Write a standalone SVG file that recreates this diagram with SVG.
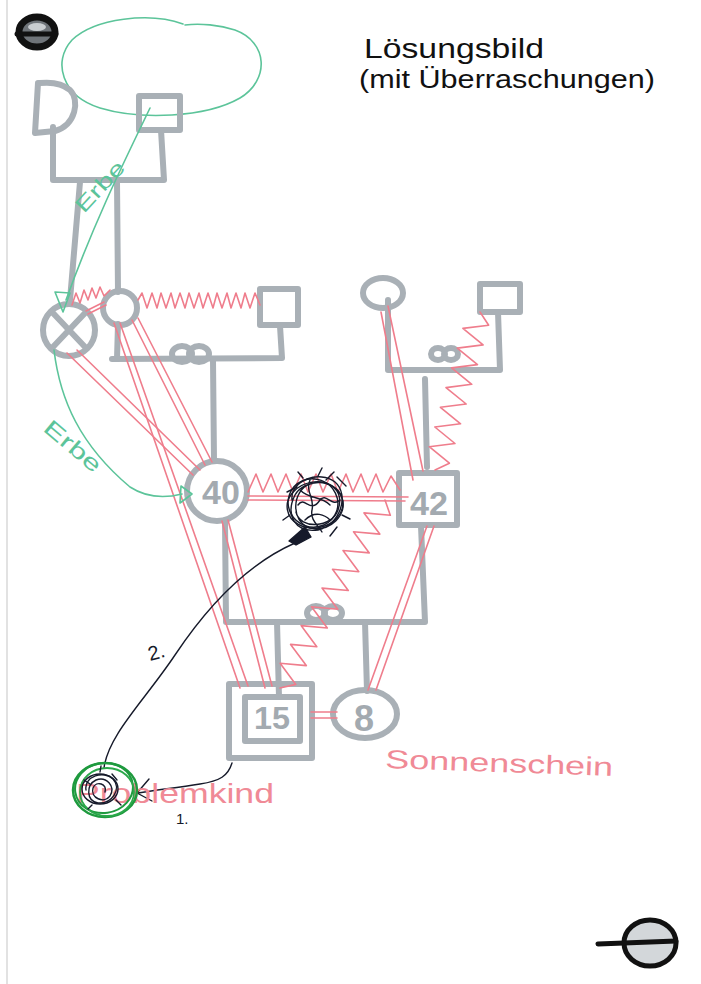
<svg xmlns="http://www.w3.org/2000/svg" width="701" height="984" viewBox="0 0 701 984">
<defs>
<style>
.g{fill:none;stroke:#a9b0b6;stroke-width:6;stroke-linecap:round;stroke-linejoin:round}
.r{fill:none;stroke:#ef7d8c;stroke-width:1.6;stroke-linecap:round;stroke-linejoin:round}
.gr{fill:none;stroke:#5cc49a;stroke-width:1.6;stroke-linecap:round;stroke-linejoin:round}
.k{fill:none;stroke:#161a2a;stroke-width:1.4;stroke-linecap:round;stroke-linejoin:round}
.num{font-family:"Liberation Sans",Arial,sans-serif;font-weight:bold;fill:#a3aab0;text-anchor:middle}
.hand{font-family:"Liberation Sans",Arial,sans-serif}
</style>
</defs>
<rect width="701" height="984" fill="#ffffff"/>
<line x1="7" y1="0" x2="7" y2="984" stroke="#e2e2e2" stroke-width="2"/>

<g id="mark-top">
<ellipse cx="37" cy="32" rx="18" ry="15" fill="#6f7479" stroke="#111" stroke-width="7"/>
<ellipse cx="37" cy="27" rx="9" ry="4" fill="#c9cdd0"/>
<line x1="17" y1="34" x2="56" y2="34" stroke="#111" stroke-width="5" stroke-linecap="round"/>
</g>
<g id="mark-bottom">
<ellipse cx="650" cy="943" rx="26" ry="23" fill="#d3d7da" stroke="#111" stroke-width="5"/>
<line x1="598" y1="944" x2="676" y2="941" stroke="#111" stroke-width="5" stroke-linecap="round"/>
</g>

<g id="title" fill="#111">
<text class="hand" x="364" y="58" font-size="28" textLength="180" lengthAdjust="spacingAndGlyphs">Lösungsbild</text>
<text class="hand" x="359" y="88" font-size="26" textLength="296" lengthAdjust="spacingAndGlyphs">(mit Überraschungen)</text>
</g>

<g id="cloud">
<path class="gr" d="M183,24 C150,12 95,18 72,40 C52,62 62,96 100,108 C140,120 205,118 240,98 C270,80 268,42 235,30 C220,25 200,23 185,25"/>
</g>

<g id="structure">
<path class="g" d="M38,83 L35,133 L55,131 C76,125 80,100 70,90 C62,83 50,82 40,83"/>
<rect class="g" x="139" y="96" width="41" height="34"/>
<path class="g" d="M53,127 L53,180 L164,180 L161,130"/>
<path class="g" d="M80,182 L70,300"/>
<path class="g" d="M117,182 L118,292"/>
<path class="g" d="M118,324 L117,359 L112,359 L282,358 L280,326"/>
<path class="g" d="M213,360 L214,461"/>
<path class="g" d="M388,300 L388,370 L500,370 L498,312"/>
<path class="g" d="M425,379 L427,467"/>
<path class="g" d="M225,522 L226,622 L425,622 L421,526"/>
<path class="g" d="M277,622 L279,697"/>
<path class="g" d="M365,622 L367,691"/>
</g>

<g id="marriage-left"><ellipse class="g" cx="182" cy="354" rx="10" ry="8" stroke-width="5"/><ellipse class="g" cx="199" cy="354" rx="10" ry="8" stroke-width="5"/></g>
<g id="marriage-right"><ellipse class="g" cx="438" cy="354" rx="7" ry="6" stroke-width="5"/><ellipse class="g" cx="451" cy="354" rx="7" ry="6" stroke-width="5"/></g>
<g id="marriage-low"><ellipse class="g" cx="316" cy="613" rx="9" ry="7" stroke-width="5"/><ellipse class="g" cx="333" cy="613" rx="9" ry="7" stroke-width="5"/></g>

<g id="grandfather-deceased">
<circle class="g" cx="69" cy="330" r="26"/>
<path class="g" d="M52,312 L86,348 M86,312 L52,348" stroke-width="5"/>
</g>
<g id="grandmother"><circle class="g" cx="120" cy="308" r="17"/></g>
<g id="step-grandfather"><rect class="g" x="260" y="289" width="38" height="36"/></g>
<g id="grandmother-right"><ellipse class="g" cx="383" cy="293" rx="20" ry="15"/></g>
<g id="grandfather-right"><rect class="g" x="480" y="284" width="40" height="28"/></g>
<g id="mother-40"><circle class="g" cx="217" cy="491" r="30"/><text class="num" x="221" y="504" font-size="34">40</text></g>
<g id="father-42"><rect class="g" x="399" y="473" width="58" height="52"/><text class="num" x="429" y="515" font-size="34" textLength="38" lengthAdjust="spacingAndGlyphs">42</text></g>
<g id="son-15">
<rect class="g" x="229" y="684" width="83" height="74"/>
<rect class="g" x="245" y="697" width="55" height="44"/>
<text class="num" x="272" y="729" font-size="32" textLength="36" lengthAdjust="spacingAndGlyphs">15</text>
</g>
<g id="daughter-8"><ellipse class="g" cx="365" cy="714" rx="32" ry="24"/><text class="num" x="364" y="731" font-size="36">8</text></g>

<g id="connectors">
<g id="red-lines">
<polyline class="r" points="72,305 76,293 80,303 84,290 88,300 92,288 96,298 100,287 104,296 110,290"/>
<path class="r" d="M86,311 L104,302 M88,314 L106,305"/>
<polyline class="r" points="138,300 142,293 147,308 152,293 157,308 161,293 166,308 171,293 175,308 180,293 185,308 189,293 194,308 199,293 203,308 208,293 213,308 217,293 222,308 227,293 231,308 236,293 241,308 245,293 250,308 255,293 260,305"/>
<path class="r" d="M67,353 L193,475 M77,350 L200,470"/>
<path class="r" d="M132,320 L205,465 M138,318 L212,462"/>
<path class="r" d="M114,323 L240,688 M120,323 L248,686"/>
<path class="r" d="M222,521 L265,688 M228,520 L272,686"/>
<polyline class="r" points="248,492 256,474 263,492 271,474 278,492 286,474 293,492 301,474 308,492 316,474 323,492 331,474 338,492 346,474 353,492 361,474 368,492 376,474 383,492 391,476 400,490"/>
<path class="r" d="M248,496 L408,497 M248,500 L405,501"/>
<polyline class="r" points="385,500 390.3,515.3 364,512.9 379.8,534.1 353.5,531.7 369.3,552.9 343,550.5 358.8,571.7 332.5,569.3 348.3,590.5 322,588.1 337.8,609.3 311.5,606.8 327.3,628 301.1,625.6 316.8,646.8 290.6,644.4 306.3,665.6 280.1,663.2 295.8,684.4 280,688"/>
<polyline class="r" points="480,312 488.7,325.2 462.9,328.4 483.1,344.9 457.3,348.1 477.5,364.6 451.6,367.9 471.8,384.3 446,387.6 466.2,404 440.4,407.3 460.6,423.8 434.8,427 455,443.5 429.2,446.7 449.4,463.2 435,470"/>
<path class="r" d="M381,312 L413,480 M388,306 L423,471"/>
<path class="r" d="M427,526 L368,690 M434,526 L376,690"/>
<path class="r" d="M311,712 L337,712 M311,718 L337,718"/>
</g>

<g id="green-arrows">
<path class="gr" d="M150,108 C125,160 95,220 66,300"/>
<polygon class="gr" points="55,292 70,293 63,312"/>
<path class="gr" d="M54,350 C60,400 80,445 130,487 C150,500 170,497 182,494"/>
<polygon class="gr" points="181,486 192,494 180,503"/>
</g>

<g id="black-arrows">
<path class="k" d="M295,543 C245,565 205,610 175,655 C145,700 108,735 104,768"/>
<path class="k" d="M232,763 C228,776 220,781 200,784 C175,788 155,790 138,793"/>
<path class="k" d="M149,779 L137,793 L152,801"/>
</g>
</g>

<g id="labels-green" fill="#5cc49a">
<text class="hand" font-size="21" transform="translate(84,214) rotate(-47)" textLength="62" lengthAdjust="spacingAndGlyphs">Erbe</text>
<text class="hand" font-size="22" transform="translate(42,430) rotate(40)" textLength="68" lengthAdjust="spacingAndGlyphs">Erbe</text>
</g>

<g id="scribble-conflict" class="k" stroke-width="1.3">
<ellipse cx="315" cy="505" rx="28" ry="23" transform="rotate(-10 315 505)"/>
<ellipse cx="313" cy="503" rx="25" ry="24" transform="rotate(20 313 503)"/>
<path d="M292,500 C290,480 320,470 335,482 C350,495 340,525 318,530 C295,533 285,515 295,495 C305,478 335,478 342,498 C348,515 330,532 310,528 C290,522 292,490 310,484 C328,478 345,490 338,510 C332,528 300,530 296,512"/>
<path d="M300,490 C310,500 320,495 330,505 M305,520 C315,510 325,515 330,520 M298,505 C305,495 310,515 320,500 C326,492 332,508 340,500 M310,480 C305,492 315,498 312,510 C310,520 318,525 322,532"/>
<path d="M287,492 L297,487 M337,477 L346,486 M330,536 L337,527 M342,515 L350,519 M318,476 L322,468 M290,515 L283,520 M303,478 L298,472 M326,480 L334,472"/>
<path d="M289,541 L305,527 L311,537 L296,545 Z" fill="#161a2a"/>
</g>

<g id="problem-child">
<text class="hand" x="76" y="803" font-size="28" fill="#f08a96" textLength="198" lengthAdjust="spacingAndGlyphs">Problemkind</text>
<ellipse cx="105" cy="790" rx="32" ry="27" fill="none" stroke="#1e9a3e" stroke-width="2.5"/>
<ellipse cx="104" cy="788" rx="29" ry="25" fill="none" stroke="#1e9a3e" stroke-width="2" transform="rotate(-8 104 788)"/>
<ellipse cx="107" cy="792" rx="27" ry="24" fill="none" stroke="#2aa84a" stroke-width="1.8"/>
<g class="k" stroke-width="1.3">
<ellipse cx="100" cy="789" rx="18" ry="15"/>
<path d="M86,790 C84,776 104,770 113,779 C122,789 112,804 98,803 C86,801 86,785 96,780 C106,776 116,786 110,796 C104,804 90,798 93,788 C96,780 108,784 105,792"/>
<path d="M84,780 L90,784 M112,774 L117,780 M116,800 L121,805 M92,805 L88,809 M100,772 L101,766"/>
</g>
</g>

<g id="labels">
<text class="hand" x="385" y="768" font-size="26" fill="#f08a96" textLength="228" lengthAdjust="spacingAndGlyphs" transform="rotate(2 385 768)">Sonnenschein</text>
<text class="hand" x="150" y="661" font-size="20" fill="#161a2a" transform="rotate(-15 150 661)">2.</text>
<text class="hand" x="176" y="824" font-size="15" fill="#161a2a">1.</text>
</g>
</svg>
